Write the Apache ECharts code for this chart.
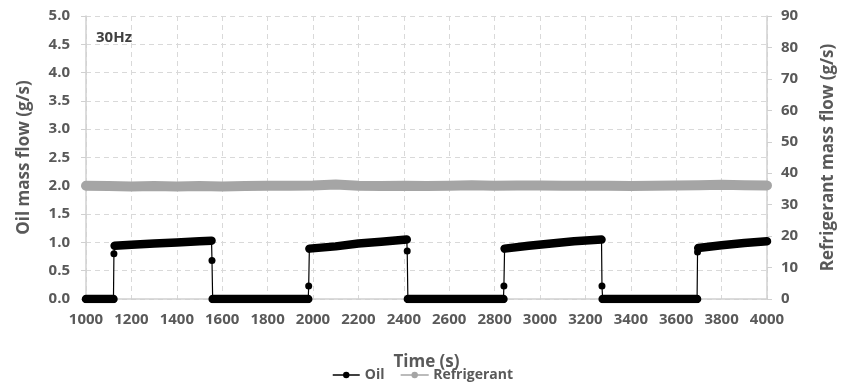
<!DOCTYPE html>
<html>
<head>
<meta charset="utf-8">
<script src="https://cdn.jsdelivr.net/npm/echarts@6/dist/echarts.min.js"></script>
<style>
  html, body { margin: 0; padding: 0; background: #fff; }
  #chart { width: 845px; height: 387px; }
</style>
</head>
<body>
<div id="chart"></div>
<script>
// oil mass flow (g/s): zero bands, switch points, plateaus
const oilTime = [
  1000, 1060, 1121, 1123,
  1126, 1200, 1300, 1400, 1500, 1553, 1555,
  1558, 1700, 1850, 1979, 1981,
  1984, 2100, 2200, 2300, 2413, 2415,
  2418, 2600, 2839, 2841,
  2844, 2950, 3050, 3150, 3271, 3273,
  3276, 3500, 3692, 3694,
  3697, 3800, 3900, 4000
];
const oilFlow = [
  0, 0, 0, 0.80,
  0.94, 0.96, 0.98, 1.00, 1.02, 1.03, 0.68,
  0, 0, 0, 0, 0.23,
  0.89, 0.93, 0.98, 1.01, 1.05, 0.85,
  0, 0, 0, 0.23,
  0.89, 0.94, 0.98, 1.02, 1.05, 0.23,
  0, 0, 0, 0.83,
  0.90, 0.95, 0.99, 1.02
];

// refrigerant mass flow (g/s), right axis
const refTime = [
  1000, 1100, 1200, 1300, 1400, 1500, 1600, 1700, 1800, 1900, 2000,
  2100, 2200, 2300, 2400, 2500, 2600, 2700, 2800, 2900, 3000,
  3100, 3200, 3300, 3400, 3500, 3600, 3700, 3800, 3900, 4000
];
const refFlow = [
  36.0, 35.9, 35.8, 35.9, 35.8, 35.9, 35.8, 35.9, 36.0, 36.0, 36.1,
  36.4, 36.0, 35.9, 36.0, 35.9, 36.0, 36.2, 36.0, 36.1, 36.1,
  36.0, 36.0, 36.0, 35.9, 36.0, 36.1, 36.2, 36.3, 36.2, 36.1
];

const leftTicks = ['0.0', '0.5', '1.0', '1.5', '2.0', '2.5', '3.0', '3.5', '4.0', '4.5', '5.0'];

const oilPts = oilTime.map((t, i) => [t, oilFlow[i]]);
const refPts = refTime.map((t, i) => [t, refFlow[i]]);

// thick band only along steady stretches; break it at the jumps
const oilBand = [];
oilPts.forEach((p, i) => {
  if (i > 0 && Math.abs(p[1] - oilPts[i - 1][1]) > 0.05) {
    oilBand.push([p[0], '-']);
  }
  oilBand.push(p);
});

const txt = '#595959';
const font = 'Open Sans';

const chart = echarts.init(document.getElementById('chart'));
chart.setOption({
  animation: false,
  textStyle: { fontFamily: font },
  title: {
    text: '30Hz',
    left: 91,
    top: 25,
    textStyle: { fontFamily: font, fontSize: 15, fontWeight: 'bold', color: '#404040' }
  },
  grid: { left: 86, right: 74, top: 16, bottom: 88 },
  legend: {
    data: ['Oil', 'Refrigerant'],
    bottom: 0,
    left: 'center',
    itemWidth: 27,
    itemHeight: 8,
    itemGap: 16,
    lineStyle: { width: 1.5 },
    textStyle: { fontFamily: font, fontSize: 14, fontWeight: 'bold', color: txt }
  },
  xAxis: {
    type: 'value',
    min: 1000,
    max: 4000,
    interval: 200,
    name: 'Time (s)',
    nameLocation: 'middle',
    nameGap: 55,
    nameTextStyle: { fontFamily: font, fontSize: 17, fontWeight: 'bold', color: txt },
    axisLine: { show: true, lineStyle: { color: '#d0d0d0', width: 1.5 } },
    axisTick: { show: false },
    axisLabel: {
      margin: 13, fontFamily: font, fontSize: 15, fontWeight: 'bold', color: txt,
      formatter: (v) => String(v)
    },
    splitLine: { show: true, lineStyle: { color: '#d9d9d9', type: [5, 4] } }
  },
  yAxis: [
    {
      type: 'value',
      min: 0,
      max: 5,
      interval: 0.5,
      name: 'Oil mass flow (g/s)',
      nameLocation: 'middle',
      nameRotate: 90,
      nameGap: 53,
      nameTextStyle: { fontFamily: font, fontSize: 17, fontWeight: 'bold', color: txt },
      axisLine: { show: true, lineStyle: { color: '#d0d0d0', width: 1.5 } },
      axisTick: { show: true, length: 5, lineStyle: { color: '#d0d0d0' } },
      axisLabel: {
        margin: 16, fontFamily: font, fontSize: 15, fontWeight: 'bold', color: txt,
        formatter: (v) => leftTicks[Math.round(v * 2)]
      },
      splitLine: { show: true, lineStyle: { color: '#d9d9d9', type: [5, 4] } }
    },
    {
      type: 'value',
      min: 0,
      max: 90,
      interval: 10,
      position: 'right',
      name: 'Refrigerant mass flow (g/s)',
      nameLocation: 'middle',
      nameRotate: 90,
      nameGap: 53,
      nameTextStyle: { fontFamily: font, fontSize: 17, fontWeight: 'bold', color: txt },
      axisLine: { show: true, lineStyle: { color: '#d0d0d0', width: 1.5 } },
      axisTick: { show: true, length: 5, lineStyle: { color: '#d0d0d0' } },
      axisLabel: { margin: 14, fontFamily: font, fontSize: 15, fontWeight: 'bold', color: txt },
      splitLine: { show: false }
    }
  ],
  series: [
    {
      name: 'Refrigerant',
      type: 'line',
      yAxisIndex: 1,
      data: refPts,
      symbol: 'none',
      color: '#a5a5a5',
      lineStyle: { color: '#a5a5a5', width: 10, cap: 'round', join: 'round' },
      z: 2
    },
    {
      name: 'Oil',
      type: 'line',
      yAxisIndex: 0,
      data: oilPts,
      symbol: 'circle',
      symbolSize: 7,
      showAllSymbol: true,
      color: '#000',
      itemStyle: { color: '#000' },
      lineStyle: { color: '#000', width: 1.2 },
      z: 3
    },
    {
      name: 'Oil',
      type: 'line',
      yAxisIndex: 0,
      data: oilBand,
      symbol: 'none',
      connectNulls: false,
      color: '#000',
      lineStyle: { color: '#000', width: 8.5, cap: 'round', join: 'round' },
      z: 4
    }
  ]
});
</script>
</body>
</html>
